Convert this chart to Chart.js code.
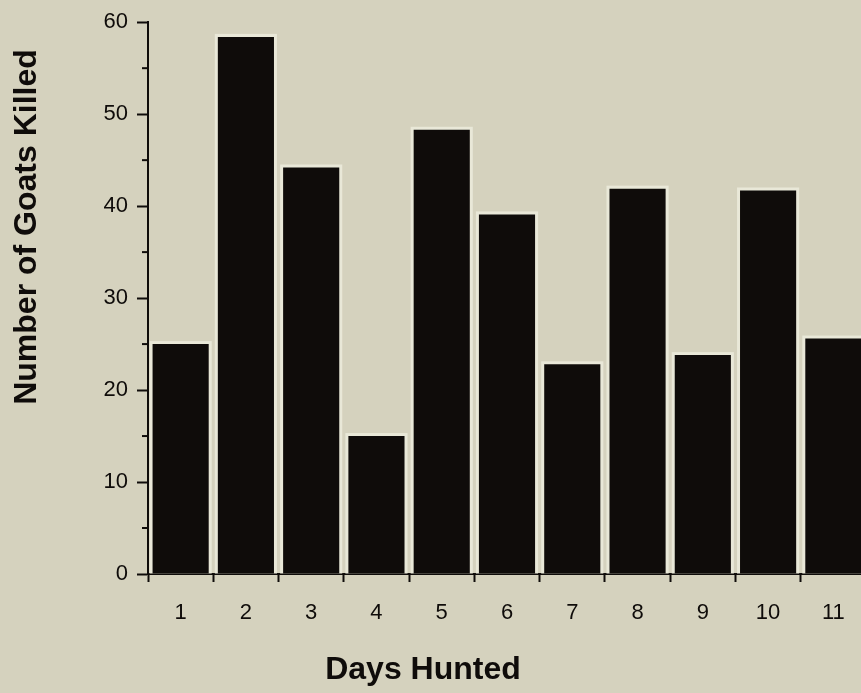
<!DOCTYPE html>
<html>
<head>
<meta charset="utf-8">
<script src="https://cdn.jsdelivr.net/npm/chart.js@4"></script>
<style>
    html, body { margin: 0; padding: 0; background: #d5d2be; overflow: hidden; }
    #goatChart { display: block; background: #d5d2be; }
</style>
</head>
<body>
<canvas id="goatChart" width="868" height="693"></canvas>
<script>

// goats killed per hunting day
const days = ["1", "2", "3", "4", "5", "6", "7", "8", "9", "10", "11"];
const goatsKilled = [25, 58.4, 44.2, 15, 48.3, 39.1, 22.8, 41.9, 23.8, 41.7, 25.6];

// y axis: labelled every 10, short ticks every 5
const yMin = 0;
const yMax = 60;
const yStep = 5;
const yLabelEvery = 10;

const xTitle = "Days Hunted";
const yTitle = "Number of Goats Killed";

const ink = "#0f0c0a";
const halo = "#e9e8d8";
const fontFamily = "'Liberation Sans', Arial, sans-serif";

// light rim round every bar, drawn from the bar elements themselves
const barHalo = {
    id: "barHalo",
    beforeDatasetsDraw(chart) {
        const { ctx } = chart;
        const pad = 3;
        ctx.save();
        ctx.fillStyle = halo;
        chart.getDatasetMeta(0).data.forEach(bar => {
            const { x, y, base, width } = bar.getProps(["x", "y", "base", "width"], true);
            ctx.fillRect(x - width / 2 - pad, y - pad, width + pad * 2, base - y + pad);
        });
        ctx.restore();
    }
};

// short unlabelled ticks on the y axis
const minorTicks = {
    id: "minorTicks",
    afterDraw(chart) {
        const { ctx } = chart;
        const y = chart.scales.y;
        ctx.save();
        ctx.strokeStyle = ink;
        ctx.lineWidth = 2;
        for (let v = yMin; v <= yMax; v += yStep) {
            if (v % yLabelEvery === 0) continue;
            const py = y.getPixelForValue(v);
            ctx.beginPath();
            ctx.moveTo(y.right - 6, py);
            ctx.lineTo(y.right, py);
            ctx.stroke();
        }
        ctx.restore();
    }
};

// axis titles
const axisTitles = {
    id: "axisTitles",
    afterDraw(chart) {
        const { ctx } = chart;
        ctx.save();
        ctx.fillStyle = ink;
        ctx.font = "bold 32px " + fontFamily;
        ctx.textAlign = "center";
        ctx.textBaseline = "middle";
        ctx.fillText(xTitle, 423, 670);
        ctx.translate(27, 227);
        ctx.rotate(-Math.PI / 2);
        ctx.fillText(yTitle, 0, 0);
        ctx.restore();
    }
};

new Chart(document.getElementById("goatChart"), {

    type: "bar",

    data: {
        labels: days,
        datasets: [
            {
                data: goatsKilled,
                backgroundColor: ink,
                borderWidth: 0,
                categoryPercentage: 1,
                barPercentage: 0.86
            }
        ]
    },

    options: {
        responsive: false,
        animation: false,
        layout: { padding: { top: 19, right: 2, left: 0, bottom: 0 } },
        plugins: {
            legend: { display: false },
            tooltip: { enabled: false }
        },
        scales: {
            x: {
                afterFit: scale => { scale.height = 119; },
                grid: {
                    drawOnChartArea: false,
                    tickLength: 8,
                    tickColor: ink,
                    tickWidth: 2
                },
                border: { color: ink, width: 2 },
                ticks: {
                    color: ink,
                    padding: 18,
                    maxRotation: 0,
                    autoSkip: false,
                    font: { family: fontFamily, size: 22 }
                }
            },
            y: {
                min: yMin,
                max: yMax,
                afterFit: scale => { scale.width = 148; },
                grid: {
                    drawOnChartArea: false,
                    tickLength: 11,
                    tickWidth: 2,
                    tickColor: c => (c.tick && c.tick.value % yLabelEvery === 0) ? ink : "rgba(0,0,0,0)"
                },
                border: { color: ink, width: 2 },
                ticks: {
                    stepSize: yStep,
                    color: ink,
                    padding: 9,
                    font: { family: fontFamily, size: 22 },
                    callback: v => (v % yLabelEvery === 0 ? v : "")
                }
            }
        }
    },

    plugins: [barHalo, minorTicks, axisTitles]

});

</script>
</body>
</html>
